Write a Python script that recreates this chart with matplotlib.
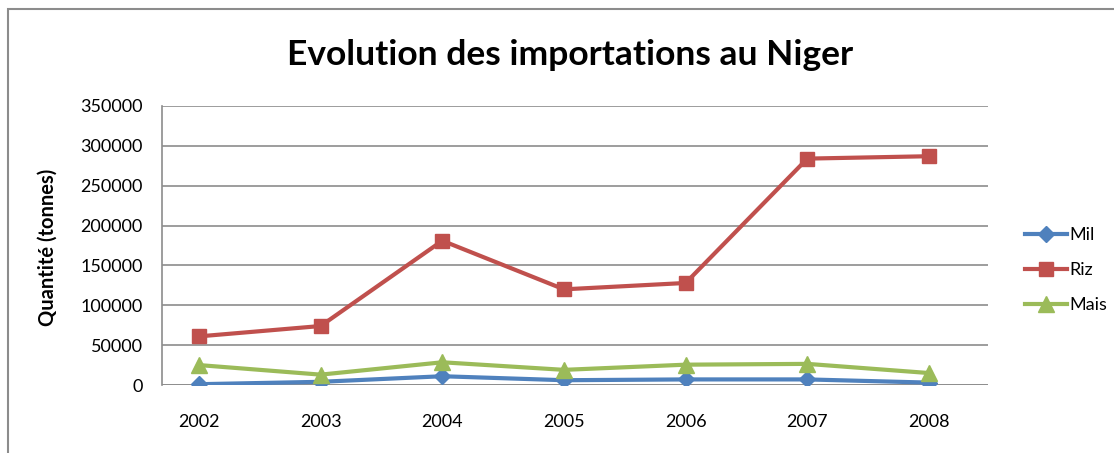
import matplotlib.pyplot as plt
from matplotlib.patches import Rectangle

# Données (tonnes)
annees = [2002, 2003, 2004, 2005, 2006, 2007, 2008]
mil = [1000, 4000, 11000, 6000, 7000, 7000, 3000]
riz = [61000, 74000, 181000, 120000, 128000, 284000, 287000]
mais = [25000, 13000, 28500, 19000, 25500, 26500, 15000]

plt.rcParams['font.family'] = ['Lato', 'DejaVu Sans']

fig = plt.figure(figsize=(11.14, 4.53), dpi=100)
ax = fig.add_axes([162 / 1114, 1 - 385 / 453, 826 / 1114, 279 / 453])

# cadre extérieur du graphique
fig.patches.append(Rectangle((8 / 1114, -0.1), 1.2, 1 - 9 / 453 + 0.1,
                             transform=fig.transFigure, fill=False,
                             edgecolor='#8c8c8c', linewidth=1.5))

ax.plot(annees, mil, color='#4F81BD', lw=3, marker='D', ms=8, label='Mil')
ax.plot(annees, riz, color='#C0504D', lw=3, marker='s', ms=10, label='Riz')
ax.plot(annees, mais, color='#9BBB59', lw=3, marker='^', ms=11, label='Mais')

ax.set_ylim(0, 350000)
ax.set_yticks(range(0, 350001, 50000))
ax.set_xlim(2002 - 0.304, 2008 + 0.485)
ax.set_xticks(annees)
ax.yaxis.grid(True, color='#8c8c8c', linewidth=1.2)
ax.set_axisbelow(True)
for s in ['top', 'right', 'bottom']:
    ax.spines[s].set_visible(False)
ax.spines['left'].set_color('#8c8c8c')
ax.spines['left'].set_linewidth(1.2)
ax.axhline(0, color='#8c8c8c', lw=1.2, zorder=1)
ax.tick_params(axis='x', length=0, pad=21, labelsize=13)
ax.tick_params(axis='y', length=0, pad=14, labelsize=13)

fig.text(48 / 1114, 1 - 247 / 453, 'Quantité (tonnes)', rotation=90,
         ha='center', va='center', fontsize=14.5, fontweight='bold')
fig.text(570 / 1114, 1 - 55 / 453, 'Evolution des importations au Niger',
         ha='center', va='center', fontsize=25.5, fontweight='bold')

fig.legend(loc='center left', bbox_to_anchor=(1018 / 1114, 1 - 270 / 453),
           frameon=False, fontsize=13, handlelength=2.3, handletextpad=0.15,
           labelspacing=1.05, borderaxespad=0)

plt.savefig('out.png', dpi=100)
